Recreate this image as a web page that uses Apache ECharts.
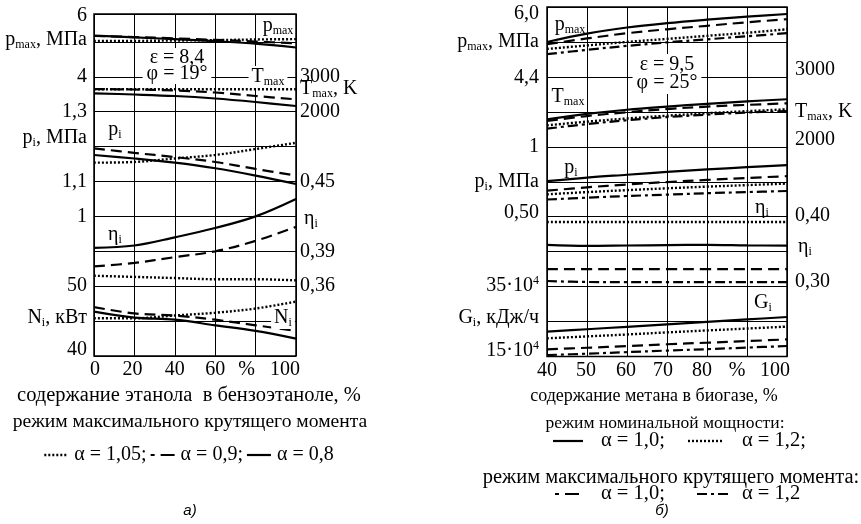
<!DOCTYPE html>
<html><head><meta charset="utf-8">
<script src="https://cdn.jsdelivr.net/npm/echarts@6/dist/echarts.min.js"></script>
<style>html,body{margin:0;padding:0;background:#fff}#c{width:861px;height:524px}</style>
</head><body><div id="c"></div>
<script>
// ---------------- DATA ----------------
// Panel a) — ethanol content in benzo-ethanol, %
const xLeft = [0, 20, 40, 60, 80, 100];
const xLeftTicks = ['0', '20', '40', '60', '%', '100'];
// alpha = 1,05 (dotted), 0,9 (dashed), 0,8 (solid)
const pmaxL_105 = [5.03, 5.03, 5.04, 5.05, 5.07, 5.08];
const pmaxL_09  = [5.17, 5.14, 5.10, 5.06, 5.01, 4.96];
const pmaxL_08  = [5.18, 5.13, 5.08, 5.02, 4.95, 4.84];
const TmaxL_105 = [2642, 2642, 2643, 2643, 2642, 2642];
const TmaxL_09  = [2650, 2636, 2607, 2550, 2450, 2355];
const TmaxL_08  = [2527, 2493, 2450, 2378, 2278, 2163];
const piL_105   = [1.154, 1.156, 1.166, 1.176, 1.193, 1.211];
const piL_09    = [1.195, 1.182, 1.170, 1.156, 1.136, 1.117];
const piL_08    = [1.176, 1.166, 1.154, 1.138, 1.117, 1.093];
const etaL_105  = [0.369, 0.368, 0.367, 0.366, 0.366, 0.365];
const etaL_09   = [0.377, 0.380, 0.385, 0.390, 0.399, 0.411];
const etaL_08   = [0.393, 0.395, 0.402, 0.410, 0.420, 0.435];
const NiL_105   = [45.4, 45.4, 45.8, 46.2, 46.8, 47.8];
const NiL_09    = [47.0, 46.1, 45.8, 45.2, 44.4, 43.6];
const NiL_08    = [46.35, 45.5, 45.2, 44.4, 43.6, 42.5];

// Panel б) — methane content in biogas, %
const xRight = [40, 50, 60, 70, 80, 90, 100];
const xRightTicks = ['40', '50', '60', '70', '80', '%', '100'];
// nominal power: alpha 1,0 (solid), 1,2 (dotted); max torque: alpha 1,0 (dashed), 1,2 (dash-dot)
const pmaxR_n10 = [5.20, 5.39, 5.53, 5.63, 5.71, 5.78, 5.84];
const pmaxR_n12 = [5.04, 5.12, 5.20, 5.27, 5.34, 5.41, 5.49];
const pmaxR_m10 = [5.15, 5.28, 5.40, 5.49, 5.57, 5.65, 5.72];
const pmaxR_m12 = [4.92, 5.02, 5.11, 5.19, 5.26, 5.33, 5.40];
const TmaxR_n10 = [2392, 2470, 2530, 2575, 2615, 2650, 2680];
const TmaxR_n12 = [2307, 2360, 2405, 2445, 2480, 2510, 2536];
const TmaxR_m10 = [2369, 2440, 2495, 2540, 2575, 2600, 2622];
const TmaxR_m12 = [2260, 2325, 2380, 2425, 2460, 2490, 2512];
const piR_n10   = [0.754, 0.780, 0.800, 0.820, 0.838, 0.854, 0.869];
const piR_n12   = [0.660, 0.676, 0.690, 0.703, 0.715, 0.726, 0.737];
const piR_m10   = [0.686, 0.710, 0.730, 0.748, 0.763, 0.777, 0.790];
const piR_m12   = [0.623, 0.636, 0.648, 0.658, 0.668, 0.676, 0.684];
const etaR_n10  = [0.3598, 0.3582, 0.3588, 0.3594, 0.3598, 0.3590, 0.3585];
const etaR_n12  = [0.3925, 0.3925, 0.3925, 0.3925, 0.3925, 0.3925, 0.3925];
const etaR_m10  = [0.325, 0.325, 0.325, 0.325, 0.325, 0.325, 0.325];
const etaR_m12  = [0.3080, 0.3066, 0.3065, 0.3065, 0.3065, 0.3065, 0.3065];
// G_i in units of 10^4 kJ/h
const GR_n10    = [22.1, 22.8, 23.5, 24.2, 24.9, 25.6, 26.3];
const GR_n12    = [20.2, 20.75, 21.3, 21.9, 22.45, 23.0, 23.55];
const GR_m10    = [17.05, 17.5, 18.0, 18.5, 18.95, 19.4, 19.9];
const GR_m12    = [15.4, 15.8, 16.25, 16.7, 17.1, 17.55, 18.0];

// Axis tick label texts
const leftPanelLeftLabels  = ['6', 'p{s|max}, МПа', '4', '1,3', 'p{s|i}, МПа', '1,1', '1', '50', 'N{s|i}, кВт', '40'];
const leftPanelRightLabels = ['3000', 'T{s|max}, K', '2000', '0,45', 'η{s|i}', '0,39', '0,36'];
const rightPanelLeftLabels = ['6,0', 'p{s|max}, МПа', '4,4', '1', 'p{s|i}, МПа', '0,50', '35·10{u|4}', 'G{s|i}, кДж/ч', '15·10{u|4}'];
const rightPanelRightLabels = ['3000', 'T{s|max}, K', '2000', '0,40', 'η{s|i}', '0,30'];

// ---------------- LAYOUT ----------------
const FONT = 'Liberation Serif';
const grids = [
  {left: 94, top: 14, width: 202, height: 342, rows: 9.8},
  {left: 547, top: 7, width: 240, height: 349.5, rows: 10}
];
// scales: value at row 0 and value change per grid row
const scalesL = {pmax: [-4, 1], Tmax: [-5000, 1000], pi: [0.6, 0.1], eta: [0.30, 0.03], Ni: [40, 5]};
const scalesR = {pmax: [-2.0, 0.8], Tmax: [-1000, 500], pi: [-0.5, 0.25], eta: [0.2, 0.05], G: [15, 10]};
const leftPanelLeftRows   = [9.74, 9.05, 8, 7, 6.25, 5, 4, 2, 1.09, 0.17];
const leftPanelRightRows  = [8, 7.65, 7, 5, 3.92, 3, 2];
const rightPanelLeftRows  = [9.8, 9.0, 7.97, 6, 5, 4.1, 2.02, 1.1, 0.17];
const rightPanelRightRows = [8.2, 7.0, 6.2, 4.04, 3.15, 2.13];
const xLabelShiftL = [1, -2, 0, 0, -9, -11];
const xLabelShiftR = [0, -1, -1, -4, -5, -10, -12];

const ST = {
  solid:   {type: 'solid', width: 2.2},
  dashed:  {type: [11, 6], width: 2.2},
  dotted:  {type: [2, 2], width: 2.4},
  dashdot: {type: [10, 4, 3, 4], width: 2.2}
};
const SHORTDASH = {type: [4, 6, 14, 100], width: 2.2};

function rowY(g, row) { const G = grids[g]; return G.top + G.height * (1 - row / G.rows); }

const richBase = {
  s: {fontSize: 12, fontFamily: FONT, verticalAlign: 'bottom', lineHeight: 13, fill: '#000'},
  u: {fontSize: 12, fontFamily: FONT, verticalAlign: 'top', lineHeight: 13, fill: '#000'}
};

// ---------------- AXES ----------------
const xAxes = [], yAxes = [], series = [];
function xLabelRich(shifts) {
  const r = {};
  shifts.forEach((s, i) => {
    r['o' + i] = {fontSize: 20, fontFamily: FONT, color: '#000',
      padding: s < 0 ? [0, -2 * s, 0, 0] : [0, 0, 0, 2 * s]};
  });
  return r;
}
[[xLeft, xLeftTicks, xLabelShiftL, 20], [xRight, xRightTicks, xLabelShiftR, 10]].forEach(([xs, ticks, sh, iv], g) => {
  xAxes.push({
    type: 'value', gridIndex: g, min: xs[0], max: xs[xs.length - 1], interval: iv,
    axisLine: {show: false}, axisTick: {show: false},
    splitLine: {show: true, lineStyle: {color: '#000', width: 1}},
    axisLabel: {margin: 4, formatter: v => { const i = xs.indexOf(v); return i < 0 ? '' : '{o' + i + '|' + ticks[i] + '}'; },
      rich: xLabelRich(sh)}
  });
});
grids.forEach((G, g) => {
  yAxes.push({type: 'value', gridIndex: g, min: 0, max: G.rows, interval: 1,
    axisLine: {show: false}, axisTick: {show: false}, axisLabel: {show: false},
    splitLine: {show: true, lineStyle: {color: '#000', width: 1}}});
});
const axisIndex = {};
function addScale(g, key, sc) {
  const G = grids[g];
  yAxes.push({type: 'value', gridIndex: g, show: false, min: sc[0], max: sc[0] + sc[1] * G.rows,
    splitLine: {show: false}});
  axisIndex[g + key] = yAxes.length - 1;
}
Object.keys(scalesL).forEach(k => addScale(0, k, scalesL[k]));
Object.keys(scalesR).forEach(k => addScale(1, k, scalesR[k]));

function line(g, key, xs, ys, style) {
  series.push({
    type: 'line', xAxisIndex: g, yAxisIndex: axisIndex[g + key],
    data: xs.map((x, i) => [x, ys[i]]), symbol: 'none', smooth: 0.35, silent: true, z: 3,
    lineStyle: Object.assign({color: '#000', cap: 'butt'}, style)
  });
}
[['pmax', pmaxL_105, pmaxL_09, pmaxL_08], ['Tmax', TmaxL_105, TmaxL_09, TmaxL_08],
 ['pi', piL_105, piL_09, piL_08], ['eta', etaL_105, etaL_09, etaL_08], ['Ni', NiL_105, NiL_09, NiL_08]]
 .forEach(([k, a, b, c]) => { line(0, k, xLeft, a, ST.dotted); line(0, k, xLeft, b, ST.dashed); line(0, k, xLeft, c, ST.solid); });
[['pmax', pmaxR_n10, pmaxR_n12, pmaxR_m10, pmaxR_m12], ['Tmax', TmaxR_n10, TmaxR_n12, TmaxR_m10, TmaxR_m12],
 ['pi', piR_n10, piR_n12, piR_m10, piR_m12], ['eta', etaR_n10, etaR_n12, etaR_m10, etaR_m12], ['G', GR_n10, GR_n12, GR_m10, GR_m12]]
 .forEach(([k, a, b, c, d]) => { line(1, k, xRight, a, ST.solid); line(1, k, xRight, b, ST.dotted); line(1, k, xRight, c, ST.dashed); line(1, k, xRight, d, ST.dashdot); });

// ---------------- TEXT ----------------
const graphics = [];
function txt(x, y, text, align, opts) {
  opts = opts || {};
  graphics.push({type: 'text', x: x, y: y, z: 10, silent: true,
    style: Object.assign({text: text, fill: '#000', fontSize: opts.size || 20, fontFamily: opts.family || FONT,
      fontStyle: opts.italic ? 'italic' : 'normal',
      align: align, verticalAlign: 'middle', rich: richBase, lineHeight: opts.lh || 22}, opts.style || {})});
}
leftPanelLeftLabels.forEach((t, i) => txt(87, rowY(0, leftPanelLeftRows[i]), t, 'right'));
leftPanelRightLabels.forEach((t, i) => txt(t.startsWith('η') ? 304 : 300, rowY(0, leftPanelRightRows[i]), t, 'left'));
rightPanelLeftLabels.forEach((t, i) => txt(539, rowY(1, rightPanelLeftRows[i]), t, 'right'));
rightPanelRightLabels.forEach((t, i) => txt(t.startsWith('η') ? 798 : 795, rowY(1, rightPanelRightRows[i]), t, 'left'));

const wbg = {backgroundColor: '#fff', padding: [0, 3, 0, 3]};
txt(278, 26, 'p{s|max}', 'center');
txt(268, 77, 'T{s|max}', 'center', {style: wbg});
txt(115, 130, 'p{s|i}', 'center');
txt(115, 235, 'η{s|i}', 'center');
txt(283, 318, 'N{s|i}', 'center', {style: wbg});
txt(177, 66, 'ε = 8,4\nφ = 19°', 'center', {lh: 16, style: {backgroundColor: '#fff', padding: [2, 4, 2, 4]}});
txt(570, 25, 'p{s|max}', 'center');
txt(568, 97, 'T{s|max}', 'center');
txt(571, 168, 'p{s|i}', 'center');
txt(762, 208, 'η{s|i}', 'center');
txt(763, 303, 'G{s|i}', 'center');
txt(667, 74, 'ε = 9,5\nφ = 25°', 'center', {lh: 18, style: {backgroundColor: '#fff', padding: [2, 4, 2, 4]}});

function sample(x1, x2, y, st) {
  graphics.push({type: 'line', z: 10, silent: true, shape: {x1: x1, y1: y, x2: x2, y2: y},
    style: {stroke: '#000', lineWidth: st.width, lineDash: Array.isArray(st.type) ? st.type : null}});
}
const mctx = document.createElement('canvas').getContext('2d');
function textW(t, size) { mctx.font = size + 'px "' + FONT + '"'; return mctx.measureText(t).width; }

// captions panel a
txt(189, 396, 'содержание этанола  в бензоэтаноле, %', 'center', {size: 20.5});
txt(190, 422, 'режим максимального крутящего момента', 'center', {size: 19.6});
(function legendRow() {
  const size = 20, y = 455, sw = 24;
  const items = [[ST.dotted, 'α = 1,05;'], [SHORTDASH, 'α = 0,9;'], [ST.solid, 'α = 0,8']];
  const g1 = 6, g2 = 4;
  let total = 0;
  items.forEach(([s, t], i) => { total += sw + g1 + textW(t, size) + (i < items.length - 1 ? g2 : 0); });
  let x = 189 - total / 2;
  items.forEach(([s, t]) => {
    sample(x, x + sw, y, s); x += sw + g1;
    txt(x, y, t, 'left', {size: size}); x += textW(t, size) + g2;
  });
})();
txt(190, 511, 'а)', 'center', {size: 15, italic: true, family: 'Liberation Sans'});

// captions panel б
txt(654, 396, 'содержание метана в биогазе, %', 'center', {size: 18});
txt(665, 423, 'режим номинальной мощности:', 'center', {size: 17.5});
sample(553, 583, 441, ST.solid); txt(601, 441, 'α = 1,0;', 'left', {size: 20.5});
sample(688, 723, 441, ST.dotted); txt(742, 441, 'α = 1,2;', 'left', {size: 20.5});
txt(671, 478, 'режим максимального крутящего момента:', 'center', {size: 20.5});
sample(555, 583, 494, SHORTDASH); txt(601, 494, 'α = 1,0;', 'left', {size: 20.5});
sample(697, 730, 494, ST.dashdot); txt(742, 494, 'α = 1,2', 'left', {size: 20.5});
txt(662, 511, 'б)', 'center', {size: 15, italic: true, family: 'Liberation Sans'});

const chart = echarts.init(document.getElementById('c'), null, {renderer: 'canvas'});
chart.setOption({
  animation: false,
  backgroundColor: '#fff',
  textStyle: {fontFamily: FONT, color: '#000'},
  grid: grids.map(G => ({left: G.left, top: G.top, width: G.width, height: G.height,
    show: true, borderColor: '#000', borderWidth: 1.5, backgroundColor: 'transparent'})),
  xAxis: xAxes, yAxis: yAxes, series: series, graphic: graphics
});
</script></body></html>
